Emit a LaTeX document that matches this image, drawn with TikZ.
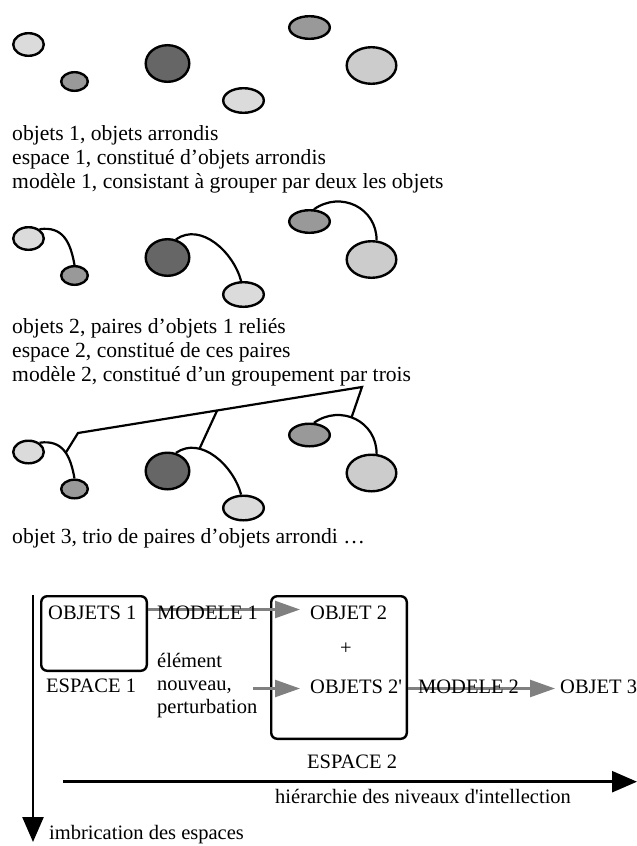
\documentclass[tikz,border=0pt]{standalone}
\usepackage{fontspec}
\setmainfont{Liberation Serif}
\usetikzlibrary{shapes.geometric, arrows.meta}

\tikzset{
	objet/.style={ellipse, draw, line width=2.4pt, inner sep=0pt},
	clair/.style={fill=black!14},
	pale/.style={fill=black!20},
	moyen/.style={fill=black!40},
	fonce/.style={fill=black!60},
	lien/.style={line width=2.2pt},
	txt/.style={anchor=base west, inner sep=0pt, font=\fontsize{20.5}{24}\selectfont},
	ligne/.style={txt, font=\fontsize{21.6}{24}\selectfont},
	espace/.style={draw, line width=2.4pt, rounded corners=6pt, inner sep=0pt},
	flux/.style={draw=black!50, line width=2.5pt, -{Triangle[length=25pt,width=17pt]}},
	axe/.style={line width=2.5pt, -{Triangle[length=25pt,width=21pt]}}
}

\begin{document}
\begin{tikzpicture}[x=1pt, y=1pt]
	\useasboundingbox (0,0) rectangle (637,-846);
	
	%objets arrondis
	\foreach \s/\dy in {a/0, b/194, c/407.5}{
		\node[objet, clair, minimum width=30.6pt, minimum height=22.6pt] (\s1) at (28.5,-44.5-\dy) {};
		\node[objet, moyen, minimum width=26.6pt, minimum height=18.6pt] (\s2) at (74.5,-81.5-\dy) {};
		\node[objet, fonce, minimum width=43.6pt, minimum height=36.6pt] (\s3) at (167.5,-63.5-\dy) {};
		\node[objet, clair, minimum width=40.6pt, minimum height=24.6pt] (\s4) at (243.5,-100.5-\dy) {};
		\node[objet, moyen, minimum width=40.6pt, minimum height=22.6pt] (\s5) at (309.5,-27.5-\dy) {};
		\node[objet, pale, minimum width=49.6pt, minimum height=36.6pt] (\s6) at (371.5,-65.5-\dy) {};
	}
	
	%paires
	\foreach \s in {b, c}{
		\draw[lien] (\s1.40) to[out=8, in=100, looseness=1.2] coordinate[pos=.55] (\s j1) (\s2.north);
		\draw[lien] (\s3.65) to[out=35, in=105] coordinate[pos=.3] (\s j2) (\s4.100);
		\draw[lien] (\s5.70) to[out=35, in=90, looseness=1.2] coordinate[pos=.45] (\s j3) (\s6.75);
	}
	
	%trio
	\coordinate (k1) at (78,-433);
	\coordinate (k3) at (362,-387);
	\draw[lien] (cj1) -- (k1) -- coordinate[pos=.49] (k2) (k3) -- (cj3);
	\draw[lien] (k2) -- (cj2);
	
	\node[ligne] (l11) at (12,-140.7) {objets 1, objets arrondis};
	\node[ligne] (l12) at (12,-164.7) {espace 1, constitué d’objets arrondis};
	\node[ligne] (l13) at (12,-188.2) {modèle 1, consistant à grouper par deux les objets};
	\node[ligne] (l21) at (12,-333.7) {objets 2, paires d’objets 1 reliés};
	\node[ligne] (l22) at (12,-357.5) {espace 2, constitué de ces paires};
	\node[ligne] (l23) at (12,-381.3) {modèle 2, constitué d’un groupement par trois};
	\node[ligne] (l31) at (12,-543.5) {objet 3, trio de paires d’objets arrondi …};
	
	%espaces
	\node[espace, minimum width=105.6pt, minimum height=74.6pt] (esp1) at (94,-633.5) {};
	\node[espace, minimum width=135.6pt, minimum height=142.6pt] (esp2) at (339,-667.5) {};
	
	\node[txt] (o1) at (48,-619) {OBJETS 1};
	\node[txt] (o2) at (310,-619) {OBJET 2};
	\node[font=\fontsize{20.5}{24}\selectfont, inner sep=0pt] (plus) at (346,-649) {+};
	\node[txt] (o2p) at (310,-693) {OBJETS 2\textquotesingle};
	\node[txt] (o3) at (560,-693) {OBJET 3};
	\node[txt] (e1) at (46,-692) {ESPACE 1};
	\node[txt] (n1) at (157,-667) {élément};
	\node[txt] (n2) at (157,-690) {nouveau,};
	\node[txt] (n3) at (157,-713) {perturbation};
	\node[txt] (e2) at (307,-768) {ESPACE 2};
	\node[txt] (hier) at (275,-803) {hiérarchie des niveaux d\textquotesingle intellection};
	\node[txt] (imbr) at (49,-839) {imbrication des espaces};
	
	\coordinate (r1) at (0,-609.5);
	\coordinate (r2) at (253,-688.5);
	\draw[flux, shorten >=10pt] (esp1.east |- r1) -- (o2.west |- r1);
	\draw[flux, shorten >=10pt] (r2) -- (o2p.west |- r2);
	\draw[flux, shorten >=5pt] (esp2.east |- r2) -- (o3.west |- r2);
	
	\node[txt] (m1) at (157,-619) {MODELE 1};
	\node[txt] (m2) at (418,-693) {MODELE 2};
	
	%axes
	\coordinate (h0) at (63,-781.7);
	\coordinate (h1) at (637,-781.7);
	\draw[axe] (h0) -- (h1);
	\coordinate (v0) at (33,-595);
	\coordinate (v1) at (33,-842);
	\draw[axe] (v0) -- (v1);
	
\end{tikzpicture}
\end{document}
